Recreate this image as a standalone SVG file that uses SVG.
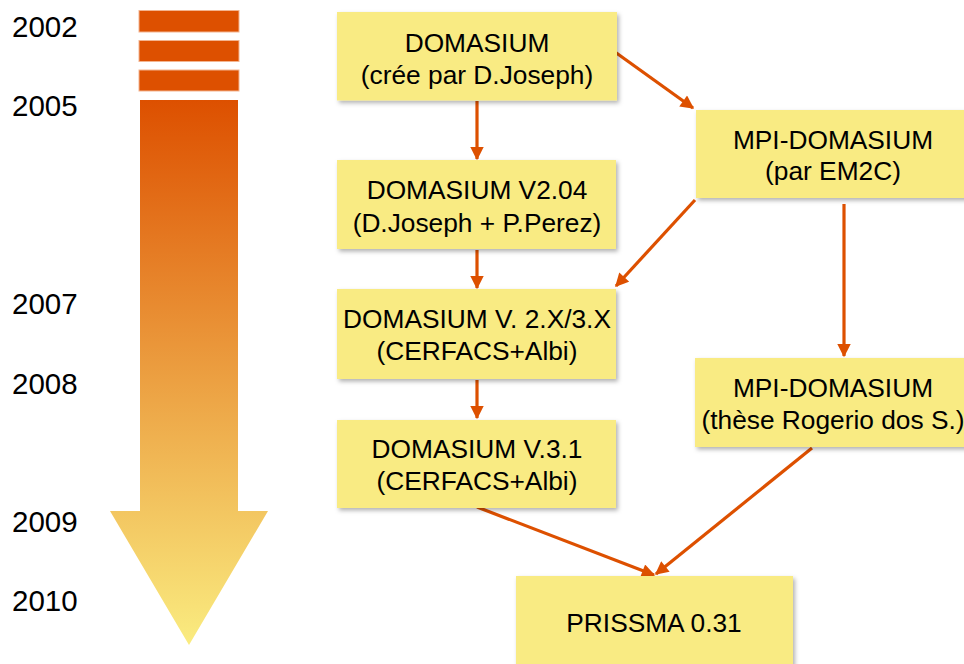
<svg xmlns="http://www.w3.org/2000/svg" width="964" height="664" viewBox="0 0 964 664">
<style>
.yr{font-family:"Liberation Sans",Arial,sans-serif;font-size:29.5px;fill:#000}
.t{font-family:"Liberation Sans",Arial,sans-serif;font-size:26.3px;fill:#000;text-anchor:middle}
.box{fill:#F9EB83;filter:url(#sh)}
.bar{fill:#DD5000;stroke:#F3B48F;stroke-width:1}
.c{stroke:#DD5000;stroke-width:3.2;fill:none;marker-end:url(#ah)}
</style>
<defs>
<linearGradient id="g" gradientUnits="userSpaceOnUse" x1="0" y1="100" x2="0" y2="645">
<stop offset="0" stop-color="#DD5000"/>
<stop offset="1" stop-color="#FAEC80"/>
</linearGradient>
<filter id="sh" x="-10%" y="-10%" width="125%" height="130%">
<feDropShadow dx="2" dy="2.5" stdDeviation="2" flood-color="#000" flood-opacity="0.3"/>
</filter>
<marker id="ah" viewBox="0 0 10 10" refX="9" refY="5" markerWidth="4.6" markerHeight="4.2" orient="auto" markerUnits="strokeWidth">
<path d="M0,0 L10,5 L0,10 Z" fill="#DD5000"/>
</marker>
</defs>
<rect width="964" height="664" fill="#fff"/>
<g id="timeline">
<rect class="bar" x="139" y="10.5" width="100" height="21.5"/>
<rect class="bar" x="139" y="40.5" width="100" height="21"/>
<rect class="bar" x="139" y="70" width="100" height="21"/>
<polygon points="140,100 238,100 238,511 268,511 189,645 110,511 140,511" fill="url(#g)"/>
<text class="yr" x="12" y="37">2002</text>
<text class="yr" x="12" y="116">2005</text>
<text class="yr" x="12" y="314">2007</text>
<text class="yr" x="12" y="394">2008</text>
<text class="yr" x="12" y="532">2009</text>
<text class="yr" x="12" y="611">2010</text>
</g>
<g id="connectors">
<line class="c" x1="477" y1="101" x2="477" y2="159"/>
<line class="c" x1="615" y1="52" x2="693" y2="108"/>
<line class="c" x1="477" y1="250" x2="477" y2="288"/>
<line class="c" x1="695" y1="200" x2="616" y2="286"/>
<line class="c" x1="844" y1="204" x2="844" y2="356"/>
<line class="c" x1="477" y1="380" x2="477" y2="418"/>
<line class="c" x1="477" y1="507" x2="654" y2="575"/>
<line class="c" x1="812" y1="448" x2="656" y2="574"/>
</g>
<g id="n1"><rect class="box" x="337" y="12" width="280" height="88.5"/>
<text class="t" x="477" y="52">DOMASIUM</text><text class="t" x="477" y="84">(crée par D.Joseph)</text></g>
<g id="n2"><rect class="box" x="696" y="110" width="274" height="88"/>
<text class="t" x="833" y="149">MPI-DOMASIUM</text><text class="t" x="833" y="180">(par EM2C)</text></g>
<g id="n3"><rect class="box" x="337" y="160" width="279" height="89"/>
<text class="t" x="477" y="199">DOMASIUM V2.04</text><text class="t" x="477" y="232">(D.Joseph + P.Perez)</text></g>
<g id="n4"><rect class="box" x="337" y="289" width="279" height="90"/>
<text class="t" x="477" y="328">DOMASIUM V. 2.X/3.X</text><text class="t" x="477" y="360">(CERFACS+Albi)</text></g>
<g id="n5"><rect class="box" x="337" y="420" width="279" height="88"/>
<text class="t" x="477" y="458">DOMASIUM V.3.1</text><text class="t" x="477" y="490">(CERFACS+Albi)</text></g>
<g id="n6"><rect class="box" x="695" y="358" width="275" height="89"/>
<text class="t" x="833" y="397">MPI-DOMASIUM</text><text class="t" x="833" y="429">(thèse Rogerio dos S.)</text></g>
<g id="n7"><rect class="box" x="516" y="576" width="277" height="100"/>
<text class="t" x="654" y="632">PRISSMA 0.31</text></g>
</svg>
